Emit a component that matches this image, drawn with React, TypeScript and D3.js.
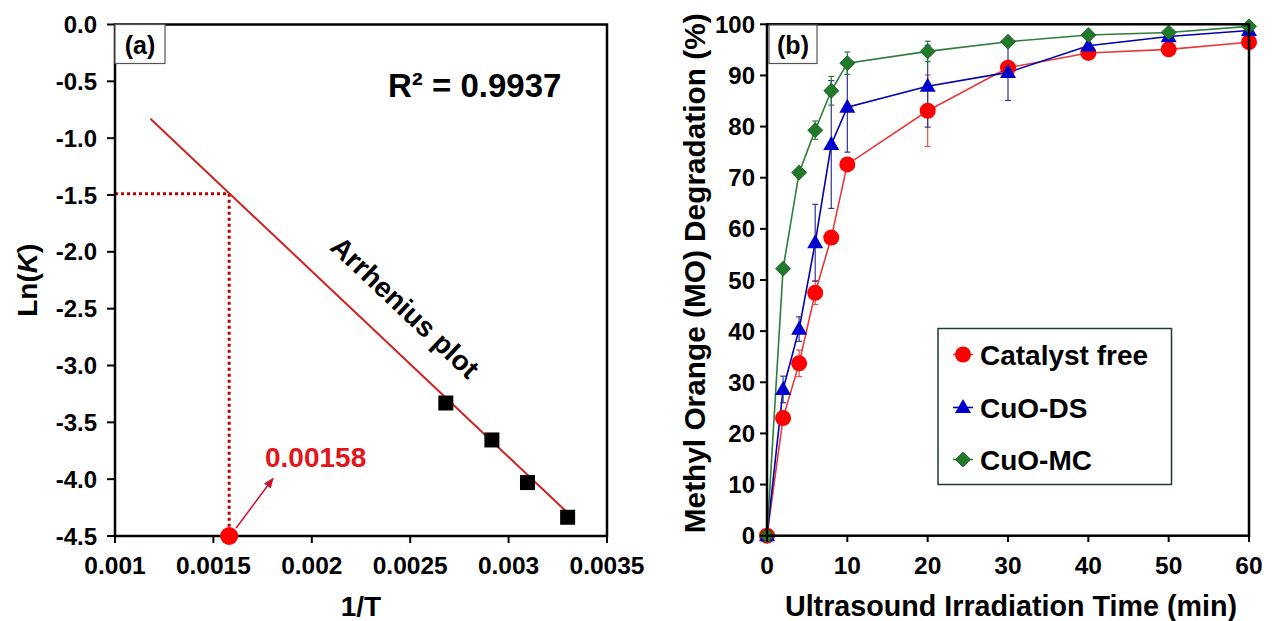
import React from "react";
import * as d3 from "d3";

// ---------- Panel (a) data ----------
const invT = [0.002681, 0.002915, 0.003096, 0.0033];
const lnK = [-3.33, -3.655, -4.03, -4.335];
const fitX = [0.00118, 0.00333];
const fitY = [-0.83, -4.345];
const markX = 0.00158;
const markY = -1.49;
const xTicksA = [0.001, 0.0015, 0.002, 0.0025, 0.003, 0.0035];
const xTickLabelsA = ["0.001", "0.0015", "0.002", "0.0025", "0.003", "0.0035"];
const yTicksA = [0, -0.5, -1, -1.5, -2, -2.5, -3, -3.5, -4, -4.5];

// ---------- Panel (b) data ----------
const times = [0, 2, 4, 6, 8, 10, 20, 30, 40, 50, 60];
const catalystFree = [0, 23.0, 33.7, 47.5, 58.3, 72.6, 83.1, 91.5, 94.4, 95.1, 96.5];
const catalystFreeErr = [0, 0.8, 2.6, 2.3, 1, 1, 7, 1, 0.5, 0.5, 0.5];
const cuoDS = [0, 28.6, 40.4, 57.3, 76.5, 83.8, 87.9, 90.6, 95.8, 97.6, 98.8];
const cuoDSErr = [0, 2.6, 2.4, 7.5, 12.5, 8.8, 8, 5.5, 0.5, 0.5, 0.5];
const cuoMC = [0, 52.2, 71.0, 79.3, 87.0, 92.4, 94.7, 96.6, 97.9, 98.4, 99.6];
const cuoMCErr = [0, 0.5, 0.5, 1.8, 2.8, 2.2, 2, 0.5, 0.5, 0.5, 0.5];
const xTicksB = [0, 10, 20, 30, 40, 50, 60];
const yTicksB = [0, 10, 20, 30, 40, 50, 60, 70, 80, 90, 100];
const seriesNames = ["Catalyst free", "CuO-DS", "CuO-MC"];

const FONT = "'Liberation Sans', Arial, Helvetica, sans-serif";

const fmtA = (v: number) => v.toFixed(1).replace("\u2212", "-");

function Marker({ type, x, y, color, stroke }: { type: string; x: number; y: number; color: string; stroke?: string }) {
  if (type === "circle") return <circle cx={x} cy={y} r={8} fill={color} />;
  if (type === "triangle") {
    const h = 14, w = 16;
    return (
      <path
        d={`M${x},${y - h * 0.6} L${x + w / 2},${y + h * 0.4} L${x - w / 2},${y + h * 0.4} Z`}
        fill={color}
      />
    );
  }
  const s = 7.5;
  return (
    <path
      d={`M${x},${y - s} L${x + s},${y} L${x},${y + s} L${x - s},${y} Z`}
      fill={color}
      stroke={stroke}
      strokeWidth={0.8}
    />
  );
}

export default function App() {
  // Panel (a) scales
  const xa = d3.scaleLinear().domain([0.001, 0.0035]).range([115, 607]);
  const ya = d3.scaleLinear().domain([-4.5, 0]).range([536, 24.5]);
  // Panel (b) scales
  const xb = d3.scaleLinear().domain([0, 60]).range([767, 1249]);
  const yb = d3.scaleLinear().domain([0, 100]).range([535.7, 24.3]);

  const fitLine = d3.line<number>()
    .x((_, i) => xa(fitX[i]))
    .y((_, i) => ya(fitY[i]));

  const angle =
    (Math.atan2(ya(fitY[1]) - ya(fitY[0]), xa(fitX[1]) - xa(fitX[0])) * 180) / Math.PI;

  const series = [
    { name: seriesNames[0], vals: catalystFree, err: catalystFreeErr, color: "#ff0000", line: "#e8383a", errColor: "#e05050", type: "circle" },
    { name: seriesNames[1], vals: cuoDS, err: cuoDSErr, color: "#0000cc", line: "#0000b0", errColor: "#33338f", type: "triangle" },
    { name: seriesNames[2], vals: cuoMC, err: cuoMCErr, color: "#1f7a2a", line: "#2e7d3a", errColor: "#2e7d3a", type: "diamond", stroke: "#15551d" },
  ];

  const lineB = (vals: number[]) =>
    d3.line<number>().x((_, i) => xb(times[i])).y((v) => yb(v))(vals) || "";

  return (
    <svg
      width={1274}
      height={621}
      style={{ position: "absolute", left: 0, top: 0, background: "#fff" }}
      fontFamily={FONT}
    >
      <defs>
        <marker id="arrowRed" viewBox="0 0 10 10" refX="9" refY="5" markerWidth="7" markerHeight="7" orient="auto">
          <path d="M0,1 L10,5 L0,9 Z" fill="#c8102e" />
        </marker>
      </defs>
      <rect x={0} y={0} width={1274} height={621} fill="#fff" />

      {/* ================= Panel (a) ================= */}
      <g>
        {/* dotted guide lines */}
        <line x1={xa(0.001)} y1={ya(markY)} x2={xa(markX)} y2={ya(markY)} stroke="#c00000" strokeWidth={3} strokeDasharray="3,3" />
        <line x1={xa(markX)} y1={ya(markY)} x2={xa(markX)} y2={ya(-4.5)} stroke="#c00000" strokeWidth={3} strokeDasharray="3,3" />
        {/* fit line */}
        <path d={fitLine(fitX) || ""} fill="none" stroke="#d0201f" strokeWidth={2} />
        {/* data squares */}
        {invT.map((v, i) => (
          <rect key={i} x={xa(v) - 7.5} y={ya(lnK[i]) - 7.5} width={15} height={15} fill="#000" />
        ))}
        {/* frame */}
        <rect x={115} y={24.5} width={492} height={511.5} fill="none" stroke="#000" strokeWidth={2.5} />
        {/* x ticks */}
        {xTicksA.map((t, i) => (
          <g key={i}>
            <line x1={xa(t)} x2={xa(t)} y1={536} y2={543} stroke="#000" strokeWidth={2} />
            <text x={xa(t)} y={574} textAnchor="middle" fontSize={24.5} fontWeight="bold">
              {xTickLabelsA[i]}
            </text>
          </g>
        ))}
        {/* y ticks */}
        {yTicksA.map((t, i) => (
          <g key={i}>
            <line x1={107} x2={115} y1={ya(t)} y2={ya(t)} stroke="#000" strokeWidth={2} />
            <text x={97} y={ya(t) + 8.5} textAnchor="end" fontSize={24} fontWeight="bold">
              {fmtA(t)}
            </text>
          </g>
        ))}
        {/* axis titles */}
        <text x={xa(0.00225)} y={616} textAnchor="middle" fontSize={28} fontWeight="bold">1/T</text>
        <text transform={`translate(37,${ya(-2.25)}) rotate(-90)`} textAnchor="middle" fontSize={28} fontWeight="bold">
          Ln(<tspan fontStyle="italic">K</tspan>)
        </text>
        {/* label box */}
        <rect x={115} y={24.5} width={50} height={39} fill="#fff" stroke="#555" strokeWidth={1.2} />
        <text x={140} y={54} textAnchor="middle" fontSize={25} fontWeight="bold">(a)</text>
        {/* R2 */}
        <text x={388} y={97} fontSize={33} fontWeight="bold">R² = 0.9937</text>
        {/* Arrhenius plot label */}
        <text
          transform={`translate(${xa(0.00244)},${ya(-2.55)}) rotate(${angle})`}
          textAnchor="middle"
          fontSize={28}
          fontWeight="bold"
        >
          Arrhenius plot
        </text>
        {/* red point & annotation */}
        <line x1={xa(markX) + 7} y1={ya(-4.5) - 8} x2={273} y2={478.5} stroke="#c8102e" strokeWidth={1.5} markerEnd="url(#arrowRed)" />
        <circle cx={xa(markX)} cy={ya(-4.5)} r={9} fill="#ff0000" />
        <text x={265} y={467} fontSize={28} fontWeight="bold" fill="#e3141b">0.00158</text>
      </g>

      {/* ================= Panel (b) ================= */}
      <g>
        {/* lines */}
        {series.map((s, si) => (
          <path key={si} d={lineB(s.vals)} fill="none" stroke={s.line} strokeWidth={1.6} />
        ))}
        {/* error bars */}
        {series.map((s, si) =>
          s.vals.map((v, i) =>
            s.err[i] > 0.6 ? (
              <g key={`${si}-${i}`} stroke={s.errColor} strokeWidth={1.2}>
                <line x1={xb(times[i])} x2={xb(times[i])} y1={yb(v + s.err[i])} y2={yb(v - s.err[i])} />
                <line x1={xb(times[i]) - 3} x2={xb(times[i]) + 3} y1={yb(v + s.err[i])} y2={yb(v + s.err[i])} />
                <line x1={xb(times[i]) - 3} x2={xb(times[i]) + 3} y1={yb(v - s.err[i])} y2={yb(v - s.err[i])} />
              </g>
            ) : null
          )
        )}
        {/* markers */}
        {series.map((s, si) =>
          s.vals.map((v, i) => (
            <Marker key={`${si}-${i}`} type={s.type} x={xb(times[i])} y={yb(v)} color={s.color} stroke={(s as any).stroke} />
          ))
        )}
        {/* frame */}
        <rect x={767} y={24.3} width={482} height={511.4} fill="none" stroke="#000" strokeWidth={2.5} />
        {/* x ticks */}
        {xTicksB.map((t, i) => (
          <g key={i}>
            <line x1={xb(t)} x2={xb(t)} y1={535.7} y2={542} stroke="#000" strokeWidth={2} />
            <text x={xb(t)} y={574} textAnchor="middle" fontSize={24.5} fontWeight="bold">{t}</text>
          </g>
        ))}
        {/* y ticks */}
        {yTicksB.map((t, i) => (
          <g key={i}>
            <line x1={760} x2={767} y1={yb(t)} y2={yb(t)} stroke="#000" strokeWidth={2} />
            <text x={755} y={yb(t) + 8.5} textAnchor="end" fontSize={24} fontWeight="bold">{t}</text>
          </g>
        ))}
        {/* axis titles */}
        <text x={1011} y={616} textAnchor="middle" fontSize={28.7} fontWeight="bold">
          Ultrasound Irradiation Time (min)
        </text>
        <text transform={`translate(705,${yb(51.3)}) rotate(-90)`} textAnchor="middle" fontSize={29.8} fontWeight="bold">
          Methyl Orange (MO) Degradation (%)
        </text>
        {/* label box */}
        <rect x={769} y={25} width={48} height={38.5} fill="#fff" stroke="#555" strokeWidth={1.2} />
        <text x={793} y={54} textAnchor="middle" fontSize={25} fontWeight="bold">(b)</text>
        {/* legend */}
        <rect x={938} y={328.5} width={233.5} height={156} fill="#fff" stroke="#1e3a3a" strokeWidth={1.5} />
        {series.map((s, si) => {
          const ly = [354.5, 407.5, 459.5][si];
          return (
            <g key={si}>
              <line x1={953} x2={973} y1={ly} y2={ly} stroke={s.line} strokeWidth={1.6} />
              <Marker type={s.type} x={963} y={ly} color={s.color} stroke={(s as any).stroke} />
              <text x={980} y={ly + 10} fontSize={28} fontWeight="bold">{s.name}</text>
            </g>
          );
        })}
      </g>
    </svg>
  );
}
